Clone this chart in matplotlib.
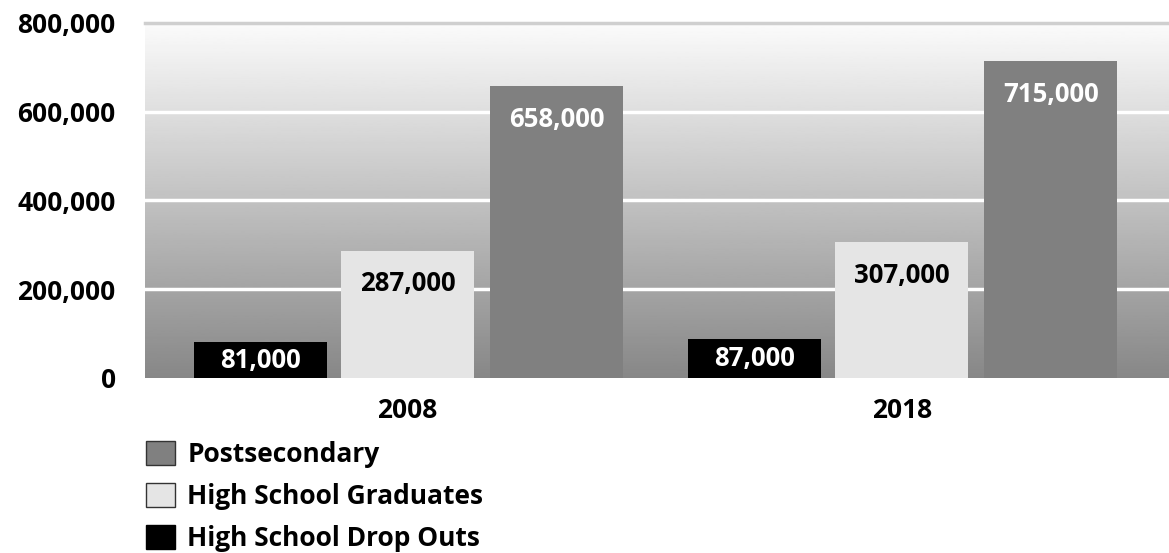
import numpy as np
import matplotlib
matplotlib.use('Agg')
import matplotlib.pyplot as plt
from matplotlib.patches import Patch
from matplotlib.ticker import FuncFormatter

plt.rcParams['font.family'] = ['Open Sans', 'DejaVu Sans']
plt.rcParams['font.weight'] = 'bold'

years = ['2008', '2018']
series = ['High School Drop Outs', 'High School Graduates', 'Postsecondary']
dropouts = [81000, 87000]
graduates = [287000, 307000]
postsecondary = [658000, 715000]
values = [dropouts, graduates, postsecondary]
colors = ['#000000', '#e5e5e5', '#808080']
text_colors = ['white', 'black', 'white']

fs = 19

fig = plt.figure(figsize=(11.69, 5.53), dpi=100)
ax = fig.add_axes([0.124, 0.3165, 0.876, 0.642])

# background gradient, white at top to mid gray at bottom
grad = np.linspace(0.53, 0.985, 256).reshape(-1, 1)
ax.imshow(grad, extent=[0, 1, 0, 1], transform=ax.transAxes, aspect='auto',
          cmap='gray', vmin=0, vmax=1, origin='lower', zorder=0)

x = np.arange(len(years))
offsets = [-0.298, 0.0, 0.302]
width = 0.269
for vals, off, c, tc in zip(values, offsets, colors, text_colors):
    bars = ax.bar(x + off, vals, width, color=c, zorder=3)
    for b, v in zip(bars, vals):
        if v < 150000:
            ax.text(b.get_x() + b.get_width() / 2, v / 2, f'{v:,}', ha='center', va='center',
                    color=tc, fontsize=18.5, fontweight='bold', zorder=4)
        else:
            ax.annotate(f'{v:,}', (b.get_x() + b.get_width() / 2, v), xytext=(0, -24),
                        textcoords='offset points', ha='center', va='center',
                        color=tc, fontsize=18.5, fontweight='bold', zorder=4)

ax.set_xlim(-0.531, 1.541)
ax.set_ylim(0, 800000)
ax.set_yticks([0, 200000, 400000, 600000, 800000])
ax.yaxis.set_major_formatter(FuncFormatter(lambda v, p: f'{int(v):,}'))
ax.set_xticks(x)
ax.set_xticklabels(years)
ax.tick_params(length=0, labelsize=fs)
ax.tick_params(axis='x', pad=14)
ax.tick_params(axis='y', pad=21)
for lab in ax.get_xticklabels() + ax.get_yticklabels():
    lab.set_fontweight('bold')

for y in [200000, 400000, 600000]:
    ax.axhline(y, color='white', lw=2.5, zorder=1)
ax.axhline(800000, color='#cfcfcf', lw=2.5, zorder=1, clip_on=False)

for s in ax.spines.values():
    s.set_visible(False)

handles = [Patch(facecolor=colors[2], edgecolor='#333333', lw=1, label=series[2]),
           Patch(facecolor=colors[1], edgecolor='#333333', lw=1, label=series[1]),
           Patch(facecolor=colors[0], edgecolor='#000000', lw=1, label=series[0])]
leg = fig.legend(handles=handles, loc='upper left', bbox_to_anchor=(0.125, 0.203),
                 frameon=False, fontsize=fs, handlelength=1.08, handleheight=1.02,
                 labelspacing=0.58, handletextpad=0.48, borderaxespad=0, borderpad=0)
for t in leg.get_texts():
    t.set_fontweight('bold')

fig.savefig('out.png', dpi=100)
